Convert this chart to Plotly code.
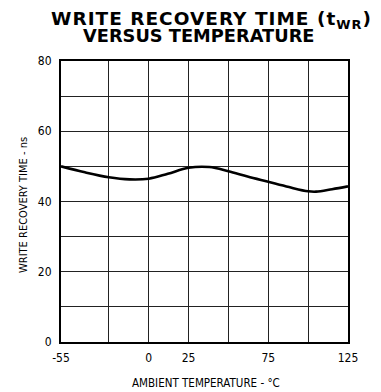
import plotly.graph_objects as go

temperature_c = [-55, -40, -25, -12, 0, 12, 25, 38, 50, 62, 75, 88, 100, 105, 115, 125]
write_recovery_ns = [50.0, 48.3, 46.9, 46.3, 46.5, 47.9, 49.6, 49.8, 48.6, 47.1, 45.6, 44.1, 42.9, 42.8, 43.5, 44.3]

x_tickvals = [-55, -25, 0, 25, 50, 75, 100, 125]
x_ticktext = ["-55", "", "0", "25", "", "75", "", "125"]
y_tickvals = [0, 10, 20, 30, 40, 50, 60, 70, 80]
y_ticktext = ["0", "", "20", "", "40", "", "60", "", "80"]

FONT = "DejaVu Sans Condensed, Liberation Sans Narrow, sans-serif"
TITLE_FONT = "DejaVu Sans, Liberation Sans, sans-serif"

# page offset (browser body margin)
OFF = 8
W, H = 381 - OFF, 392 - OFF
l, t = 61 - OFF, 61 - OFF
pw, ph = 287, 281
r, b = W - l - pw, H - t - ph

def px_x(x):
    return (x - OFF - l) / pw

def px_y(y):
    return (H - b - (y - OFF)) / ph

fig = go.Figure()
fig.add_trace(go.Scatter(
    x=temperature_c, y=write_recovery_ns, mode="lines",
    line=dict(color="black", width=2.6, shape="spline", smoothing=1.0),
    hoverinfo="skip", showlegend=False,
))

fig.update_layout(
    width=W, height=H,
    margin=dict(l=l, r=r, t=t, b=b),
    paper_bgcolor="white", plot_bgcolor="white",
    font=dict(family=FONT, color="black", size=12),
    xaxis=dict(
        range=[-55, 125], tickmode="array", tickvals=x_tickvals, ticktext=x_ticktext,
        showgrid=True, gridcolor="#222", gridwidth=1, zeroline=False,
        showline=True, linecolor="black", linewidth=2, mirror=True,
        ticks="", ticklabelstandoff=4, tickfont=dict(size=12, family=FONT),
        automargin=False,
    ),
    yaxis=dict(
        range=[0, 80], tickmode="array", tickvals=y_tickvals, ticktext=y_ticktext,
        showgrid=True, gridcolor="#222", gridwidth=1, zeroline=False,
        showline=True, linecolor="black", linewidth=2, mirror=True,
        ticks="", ticklabelstandoff=5, tickfont=dict(size=12, family=FONT),
        automargin=False,
    ),
    annotations=[
        dict(text="<span style='letter-spacing:1px'><b>WRITE RECOVERY TIME (t<sub>WR</sub>)</b></span>",
             x=px_x(211), y=px_y(20),
             xref="paper", yref="paper", xanchor="center", yanchor="middle", showarrow=False,
             font=dict(family=TITLE_FONT, size=18.5, color="black")),
        dict(text="<b>VERSUS TEMPERATURE</b>", x=px_x(198), y=px_y(36),
             xref="paper", yref="paper", xanchor="center", yanchor="middle", showarrow=False,
             font=dict(family=TITLE_FONT, size=17.8, color="black")),
        dict(text="AMBIENT TEMPERATURE - °C", x=px_x(206), y=px_y(383),
             xref="paper", yref="paper", xanchor="center", yanchor="middle", showarrow=False,
             font=dict(family=FONT, size=11.5, color="black")),
        dict(text="WRITE RECOVERY TIME - ns", x=px_x(23), y=px_y(205),
             xref="paper", yref="paper", xanchor="center", yanchor="middle", showarrow=False,
             textangle=-90, font=dict(family=FONT, size=11, color="black")),
    ],
)

fig.write_html("out.html")
